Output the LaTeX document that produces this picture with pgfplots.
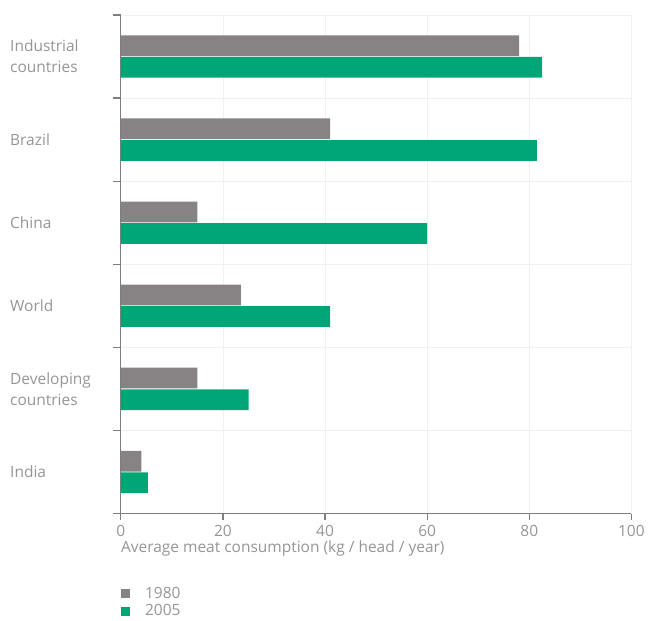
\documentclass[border=0pt]{standalone}
\usepackage{pgfplots}
\pgfplotsset{compat=1.18}
\usepackage{fontspec}
\setmainfont{Open Sans}
\definecolor{cgray}{HTML}{878384}
\definecolor{cgreen}{HTML}{00A676}
\definecolor{ctext}{HTML}{959595}
\definecolor{caxis}{HTML}{7E7E7E}
\definecolor{cgrid}{HTML}{F0F0F0}
\pgfplotsset{sqlegend/.style={legend image code/.code={\fill[##1] (0pt,-4.5pt) rectangle (9pt,4.5pt);}}}
\begin{document}
\begin{tikzpicture}
\begin{axis}[
  scale only axis, width=511pt, height=499pt,
  xmin=0, xmax=100, ymin=-0.5, ymax=5.5,
  axis lines=left,
  axis line style={caxis, line width=1.2pt, -},
  xtick={0,20,...,100},
  ytick={0,...,5},
  yticklabels={India, {Developing\\countries}, World, China, Brazil, {Industrial\\countries}},
  minor ytick={-0.5,0.5,...,5.5},
  tick align=outside,
  major tick length=6pt,
  minor tick length=8pt,
  major y tick style={draw=none},
  minor y tick style={caxis, line width=1.2pt},
  major x tick style={caxis, line width=1.2pt},
  xmajorgrids, yminorgrids,
  major grid style={cgrid, line width=0.8pt},
  minor grid style={cgrid, line width=0.8pt},
  /pgf/number format/assume math mode=true,
  tick label style={font=\fontsize{15.5}{21}\selectfont, text=ctext},
  xticklabel style={yshift=-2pt},
  yticklabel style={anchor=west, align=left, xshift=-105pt, inner sep=0pt},
  xlabel={Average meat consumption (kg / head / year)},
  xlabel style={at={(axis description cs:0,0)}, anchor=north west, yshift=-27pt, inner sep=0pt, font=\fontsize{15.5}{18}\selectfont, text=ctext},
  legend style={at={(axis description cs:0,-0.145)}, anchor=north west, draw=none, fill=none, font=\fontsize{15.5}{18}\selectfont, text=ctext, row sep=3pt, inner sep=0pt, nodes={inner sep=1pt},
    /tikz/every odd column/.append style={column sep=14pt}},
  legend cell align=left,
]
\addplot[xbar, bar width=0.25, bar shift=0.13, fill=cgray, draw=none, forget plot]
  coordinates {(78,5) (41,4) (15,3) (23.5,2) (15,1) (4,0)};
\addplot[xbar, bar width=0.25, bar shift=-0.13, fill=cgreen, draw=none, forget plot]
  coordinates {(82.5,5) (81.5,4) (60,3) (41,2) (25,1) (5.3,0)};
\addlegendimage{sqlegend, fill=cgray, draw=none}
\addlegendentry{1980}
\addlegendimage{sqlegend, fill=cgreen, draw=none}
\addlegendentry{2005}
\end{axis}
\path ([shift={(-121pt,-107pt)}]current axis.south west) rectangle ([shift={(16pt,15pt)}]current axis.north east);
\end{tikzpicture}
\end{document}
